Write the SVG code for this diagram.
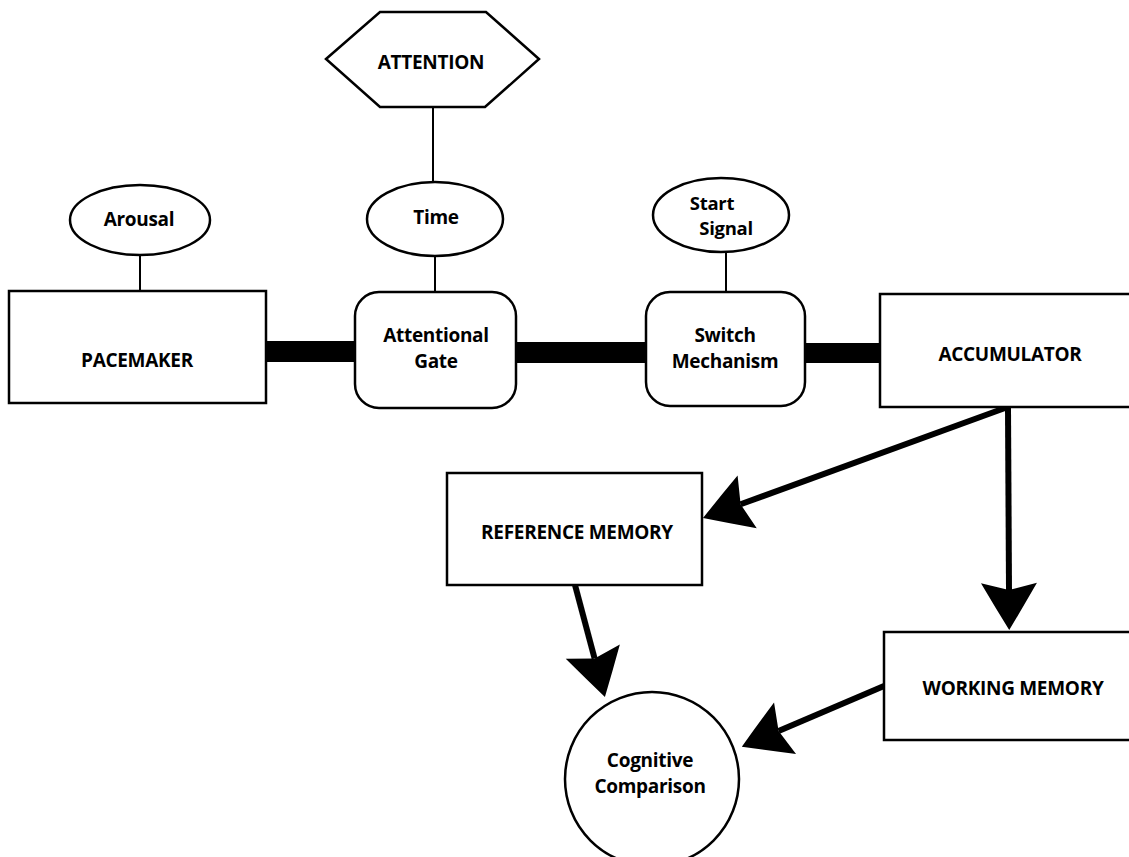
<svg xmlns="http://www.w3.org/2000/svg" width="1129" height="857" viewBox="0 0 1129 857">
<style>
.box{fill:#fff;stroke:#000;stroke-width:2.5}
.thin{stroke:#000;stroke-width:2;fill:none}
.bar{fill:#000}
.arrow{stroke:#000;stroke-width:6;fill:none}
text{font-family:"Open Sans","Liberation Sans",sans-serif;font-weight:700;font-size:19px;fill:#000;text-anchor:middle;letter-spacing:-0.3px}
.sm{font-size:18.5px}
</style>
<defs>
<marker id="ah" markerUnits="userSpaceOnUse" viewBox="0 0 52 60" refX="10" refY="30" markerWidth="52" markerHeight="60" orient="auto">
<path d="M50,30 Q27,16 3,2 L10,30 L3,58 Q27,44 50,30 Z" fill="#000"/>
</marker>
</defs>
<rect width="1129" height="857" fill="#fff"/>
<g id="connectors">
<line class="thin" x1="433" y1="107" x2="433" y2="182"/>
<line class="thin" x1="140" y1="255" x2="140" y2="291"/>
<line class="thin" x1="435" y1="256" x2="435" y2="292"/>
<line class="thin" x1="726" y1="252" x2="726" y2="292"/>
<rect class="bar" x="266" y="341" width="89" height="21"/>
<rect class="bar" x="516" y="342" width="130" height="21"/>
<rect class="bar" x="805" y="343" width="75" height="20"/>
<line class="arrow" x1="1005" y1="408" x2="740.6" y2="504.3" marker-end="url(#ah)"/>
<line class="arrow" x1="1008" y1="408" x2="1009" y2="590" marker-end="url(#ah)"/>
<line class="arrow" x1="575" y1="585" x2="594.6" y2="658.4" marker-end="url(#ah)"/>
<line class="arrow" x1="884" y1="686" x2="778.6" y2="731" marker-end="url(#ah)"/>
</g>
<g id="attention">
<polygon class="box" points="326,59 380,12 486,12 539,59 485,107 380,107"/>
<text x="431" y="69">ATTENTION</text>
</g>
<g id="arousal">
<ellipse class="box" cx="140" cy="220" rx="70" ry="35"/>
<text x="139" y="226">Arousal</text>
</g>
<g id="time">
<ellipse class="box" cx="435" cy="219" rx="68" ry="37"/>
<text x="436" y="224">Time</text>
</g>
<g id="start-signal">
<ellipse class="box" cx="721" cy="215" rx="68" ry="37"/>
<text class="sm" x="712" y="210">Start</text>
<text class="sm" x="726" y="235">Signal</text>
</g>
<g id="pacemaker">
<rect class="box" x="9" y="291" width="257" height="112"/>
<text x="137" y="367">PACEMAKER</text>
</g>
<g id="attentional-gate">
<rect class="box" x="355" y="292" width="161" height="116" rx="24"/>
<text x="436" y="342">Attentional</text>
<text x="436" y="368">Gate</text>
</g>
<g id="switch">
<rect class="box" x="646" y="292" width="159" height="114" rx="24"/>
<text x="725" y="342">Switch</text>
<text x="725" y="368">Mechanism</text>
</g>
<g id="accumulator">
<rect class="box" x="880" y="294" width="260" height="113"/>
<text x="1010" y="361">ACCUMULATOR</text>
</g>
<g id="reference-memory">
<rect class="box" x="447" y="473" width="255" height="112"/>
<text x="577" y="539">REFERENCE MEMORY</text>
</g>
<g id="working-memory">
<rect class="box" x="884" y="632" width="260" height="108"/>
<text x="1013" y="695">WORKING MEMORY</text>
</g>
<g id="cognitive-comparison">
<circle class="box" cx="652" cy="779" r="87"/>
<text x="650" y="767">Cognitive</text>
<text x="650" y="793">Comparison</text>
</g>
</svg>
